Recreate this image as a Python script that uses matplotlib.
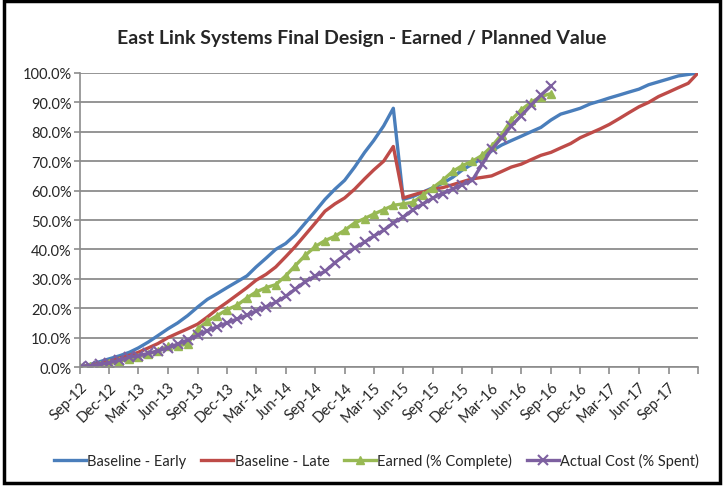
import numpy as np
import pandas as pd
import matplotlib
matplotlib.use("Agg")
import matplotlib.pyplot as plt
from matplotlib.patches import Rectangle
from matplotlib.ticker import FuncFormatter

# ─── data (monthly, Sep-12 .. Dec-17) ─────────────────────────────────────────
months = pd.date_range("2012-09-01", "2017-12-01", freq="MS")

baseline_early = [
    0, 0.8, 1.8, 2.8, 3.8, 5, 6.5, 8.5, 10.7, 13, 15, 17.5, 20.4, 23, 25, 27,
    29, 31, 34, 37, 40, 42, 45, 49, 53, 57, 60.5, 63.5, 68, 73, 77, 82, 88, 57,
    58, 59.5, 61, 62.5, 64.5, 67, 69, 71, 73.5, 75.5, 77, 78.5, 80, 81.5, 84,
    86, 87, 88, 89.5, 90.5, 91.5, 92.5, 93.5, 94.5, 96, 97, 98, 99, 99.5, 100,
]
baseline_late = [
    0, 0.5, 1.2, 2, 3, 4, 5, 6.5, 8, 10, 11.5, 13, 14.6, 17, 19.7, 22,
    24.5, 27, 29.5, 31.5, 34, 37.5, 41, 45, 49, 53, 55.5, 57.5, 60.5, 64, 67,
    70, 75, 57.5, 58.5, 59.5, 60.5, 61, 62, 63, 64, 64.5, 65, 66.5, 68, 69,
    70.5, 72, 73, 74.5, 76, 78, 79.5, 81, 82.5, 84.5, 86.5, 88.5, 90, 92,
    93.5, 95, 96.5, 100,
]
earned = [
    0, 0.3, 0.8, 1.2, 2, 2.8, 3.5, 4.5, 5.5, 7, 7.2, 7.8, 13, 15.5, 17.5,
    19.5, 21, 23.5, 25.5, 27, 28, 31, 34.5, 38, 41, 43, 44.5, 46.5, 49, 50.5,
    52, 53.5, 55, 55.5, 56, 58.5, 61, 63.5, 66.5, 68.5, 70, 72, 75, 79, 84,
    87.5, 90, 92, 93,
]
actual_cost = [
    0, 0.4, 0.9, 1.5, 2.3, 3.3, 3.9, 4.6, 5.5, 6.5, 7.8, 9.2, 10.8, 12.3,
    13.7, 15, 16.3, 17.6, 19, 20.5, 22, 24, 26.5, 29, 31, 32.5, 35.5, 38,
    40.5, 42.5, 44.5, 46.5, 49, 51, 53.5, 55.5, 57.5, 59, 60.5, 62, 63.5, 69,
    74, 78, 82, 85.5, 89, 92.5, 95.5,
]

series_names = ["Baseline - Early", "Baseline - Late",
                "Earned (% Complete)", "Actual Cost (% Spent)"]
colors = ["#4A7EBB", "#BE4B48", "#98B954", "#7D60A0"]

TXT = "#262626"
GRID = "#8c8c8c"

plt.rcParams["font.family"] = ["Lato", "DejaVu Sans"]

fig = plt.figure(figsize=(7.24, 4.89), dpi=100)
ax = fig.add_axes([0.1105, 0.2474, 0.8535, 0.6013])

ax.plot(months, baseline_early, color=colors[0], lw=2.4, label=series_names[0])
ax.plot(months, baseline_late, color=colors[1], lw=2.4, label=series_names[1])
ax.plot(months[:len(earned)], earned, color=colors[2], lw=2.4, marker="^",
        ms=6, mec=colors[2], mfc=colors[2], label=series_names[2])
ax.plot(months[:len(actual_cost)], actual_cost, color=colors[3], lw=2.4,
        marker="x", ms=7, mew=1.5, label=series_names[3])

ax.set_ylim(0, 100)
ax.set_yticks(np.arange(0, 101, 10))
ax.yaxis.set_major_formatter(FuncFormatter(lambda v, _: f"{v:.1f}%"))
ax.set_xlim(months[0], months[-1])

qticks = months[::3]
ax.set_xticks(qticks)
ax.set_xticklabels([d.strftime("%b-%y") if i < len(qticks) - 1 else ""
                    for i, d in enumerate(qticks)],
                   rotation=45, ha="right", rotation_mode="anchor")

ax.grid(axis="y", color=GRID, lw=1.3)
ax.set_axisbelow(True)
for s in ("top", "right"):
    ax.spines[s].set_visible(False)
for s in ("left", "bottom"):
    ax.spines[s].set_color(GRID)
    ax.spines[s].set_linewidth(1.2)
ax.tick_params(axis="x", colors=GRID, labelcolor=TXT, labelsize=10.5,
               length=5, width=1.2, pad=4)
ax.tick_params(axis="y", colors=GRID, labelcolor=TXT, labelsize=10.5,
               length=4, width=1.2, pad=2)

fig.text(0.5, 0.922, "East Link Systems Final Design - Earned / Planned Value",
         ha="center", va="center", fontsize=14, fontweight="bold", color=TXT)

fig.legend(loc="center", bbox_to_anchor=(0.52, 0.057), ncol=4, frameon=False,
           fontsize=10.5, handlelength=2.2, handletextpad=0.1,
           columnspacing=1.0, labelcolor=TXT)

fig.add_artist(Rectangle((0.005, 0.01), 0.99, 0.985, transform=fig.transFigure,
                         fill=False, ec="black", lw=2.5))

fig.savefig("out.png", dpi=100)
